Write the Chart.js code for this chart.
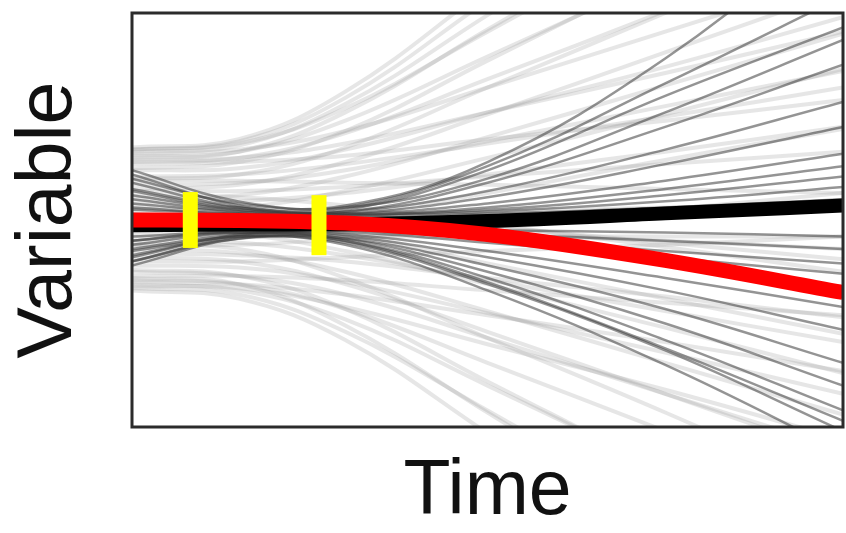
<!DOCTYPE html>
<html>
<head>
<meta charset="utf-8">
<script src="https://cdn.jsdelivr.net/npm/chart.js@4"></script>
<style>
  html, body { margin: 0; padding: 0; background: #fff; }
  #wrap { width: 846px; height: 533px; }
</style>
</head>
<body>
<div id="wrap"><canvas id="c" width="846" height="533"></canvas></div>
<script>
// Time sample positions (shared by all curves)
const timePoints = [0, 15, 30, 50, 75, 100];

// Light ensemble members
const lightCurves = [
  [0.35, 0.39, 0.62, 1.12, 1.75, 2.40],
  [0.34, 0.38, 0.59, 1.06, 1.64, 2.25],
  [0.33, 0.36, 0.56, 0.99, 1.53, 2.09],
  [0.30, 0.33, 0.52, 0.92, 1.42, 1.94],
  [0.34, 0.37, 0.54, 0.91, 1.38, 1.86],
  [0.25, 0.28, 0.43, 0.77, 1.20, 1.64],
  [0.31, 0.33, 0.48, 0.79, 1.18, 1.58],
  [0.20, 0.22, 0.35, 0.64, 1.00, 1.37],
  [0.28, 0.30, 0.42, 0.68, 1.01, 1.35],
  [0.15, 0.17, 0.28, 0.51, 0.81, 1.11],
  [0.32, 0.34, 0.43, 0.64, 0.91, 1.18],
  [0.10, 0.12, 0.21, 0.40, 0.65, 0.90],
  [0.24, 0.25, 0.34, 0.52, 0.74, 0.98],
  [0.05, 0.06, 0.14, 0.30, 0.51, 0.73],
  [0.29, 0.30, 0.37, 0.52, 0.71, 0.91],
  [0.17, 0.18, 0.24, 0.38, 0.55, 0.72],
  [-0.05, -0.04, 0.02, 0.13, 0.29, 0.44],
  [0.21, 0.22, 0.27, 0.37, 0.50, 0.64],
  [0.08, 0.09, 0.13, 0.22, 0.33, 0.45],
  [0.27, 0.28, 0.31, 0.39, 0.48, 0.58],
  [-0.12, -0.12, -0.09, -0.03, 0.05, 0.13],
  [0.14, 0.14, 0.16, 0.21, 0.27, 0.33],
  [-0.20, -0.20, -0.18, -0.15, -0.12, -0.08],
  [0.02, 0.02, 0.03, 0.04, 0.06, 0.08],
  [-0.08, -0.08, -0.08, -0.08, -0.08, -0.08],
  [0.19, 0.19, 0.18, 0.17, 0.15, 0.13],
  [-0.02, -0.02, -0.04, -0.07, -0.10, -0.14],
  [-0.27, -0.27, -0.29, -0.34, -0.40, -0.46],
  [0.06, 0.06, 0.03, -0.03, -0.11, -0.19],
  [-0.16, -0.17, -0.20, -0.28, -0.37, -0.47],
  [0.12, 0.11, 0.07, -0.02, -0.13, -0.25],
  [-0.30, -0.31, -0.36, -0.46, -0.59, -0.73],
  [-0.10, -0.11, -0.17, -0.29, -0.44, -0.59],
  [0.00, -0.01, -0.07, -0.21, -0.38, -0.55],
  [-0.22, -0.23, -0.30, -0.45, -0.64, -0.84],
  [-0.06, -0.07, -0.15, -0.31, -0.52, -0.74],
  [-0.32, -0.33, -0.42, -0.60, -0.82, -1.06],
  [-0.14, -0.16, -0.25, -0.44, -0.69, -0.94],
  [-0.25, -0.27, -0.36, -0.57, -0.84, -1.11],
  [-0.18, -0.20, -0.31, -0.54, -0.84, -1.14],
  [-0.29, -0.31, -0.43, -0.69, -1.02, -1.36],
  [-0.12, -0.14, -0.28, -0.57, -0.93, -1.31],
  [-0.31, -0.34, -0.48, -0.80, -1.21, -1.62],
  [-0.24, -0.27, -0.43, -0.78, -1.22, -1.68],
  [-0.33, -0.36, -0.54, -0.92, -1.41, -1.91],
  [-0.28, -0.31, -0.51, -0.93, -1.46, -2.00],
  [-0.34, -0.38, -0.58, -1.03, -1.60, -2.19]
];

// Dark ensemble members
const darkCurves = [
  [0.20, 0.08, 0.07, 0.28, 0.78, 1.45],
  [0.15, 0.06, 0.06, 0.26, 0.66, 1.08],
  [0.12, 0.05, 0.05, 0.24, 0.60, 0.93],
  [0.24, 0.09, 0.06, 0.20, 0.52, 0.87],
  [0.14, 0.05, 0.04, 0.18, 0.45, 0.75],
  [0.08, 0.04, 0.04, 0.14, 0.34, 0.57],
  [0.06, 0.03, 0.03, 0.11, 0.27, 0.45],
  [0.18, 0.06, 0.03, 0.08, 0.19, 0.32],
  [0.05, 0.03, 0.02, 0.06, 0.15, 0.26],
  [0.22, 0.07, 0.03, 0.05, 0.12, 0.21],
  [0.03, 0.02, 0.02, 0.04, 0.09, 0.16],
  [0.10, 0.04, 0.01, 0.03, 0.06, 0.10],
  [-0.10, -0.05, -0.04, -0.05, -0.06, -0.08],
  [-0.18, -0.07, -0.05, -0.07, -0.10, -0.14],
  [-0.05, -0.04, -0.05, -0.09, -0.15, -0.21],
  [-0.20, -0.08, -0.06, -0.11, -0.18, -0.26],
  [-0.14, -0.07, -0.07, -0.15, -0.28, -0.42],
  [-0.12, -0.06, -0.08, -0.18, -0.34, -0.53],
  [-0.22, -0.09, -0.09, -0.22, -0.43, -0.69],
  [-0.10, -0.06, -0.09, -0.25, -0.50, -0.80],
  [-0.15, -0.08, -0.10, -0.28, -0.58, -0.92],
  [-0.08, -0.06, -0.10, -0.30, -0.62, -0.97],
  [-0.20, -0.09, -0.11, -0.31, -0.63, -1.02],
  [-0.17, -0.08, -0.12, -0.34, -0.70, -1.12]
];

// Highlighted trajectories
const blackLine = [-0.025, -0.022, -0.02, -0.005, 0.032, 0.07];
const redLine   = [0.0, -0.002, -0.015, -0.07, -0.195, -0.35];

// Yellow observation markers
const markerX    = [8.2, 26.3];
const markerLow  = [-0.135, -0.17];
const markerHigh = [0.135, 0.12];

const toPts = vals => vals.map((v, i) => ({ x: timePoints[i], y: v }));

const datasets = [];
markerX.forEach((mx, i) => {
  datasets.push({
    data: [{ x: mx, y: markerLow[i] }, { x: mx, y: markerHigh[i] }],
    borderColor: '#ffff00', borderWidth: 15, borderCapStyle: 'butt',
    pointRadius: 0, tension: 0, order: 0
  });
});
datasets.push({
  data: toPts(redLine), borderColor: '#ff0000', borderWidth: 15,
  borderCapStyle: 'butt', pointRadius: 0, cubicInterpolationMode: 'monotone', order: 1
});
datasets.push({
  data: toPts(blackLine), borderColor: '#000000', borderWidth: 14,
  borderCapStyle: 'butt', pointRadius: 0, cubicInterpolationMode: 'monotone', order: 2
});
darkCurves.forEach(c => datasets.push({
  data: toPts(c), borderColor: 'rgba(60,60,60,0.55)', borderWidth: 2.5,
  pointRadius: 0, tension: 0.4, capBezierPoints: false, order: 3
}));
lightCurves.forEach(c => datasets.push({
  data: toPts(c), borderColor: 'rgba(150,150,150,0.24)', borderWidth: 4,
  pointRadius: 0, tension: 0.4, capBezierPoints: false, order: 4
}));

const framePlugin = {
  id: 'frame',
  afterDraw(chart) {
    const { ctx, chartArea: a } = chart;
    ctx.save();
    ctx.strokeStyle = '#2b2b2b';
    ctx.lineWidth = 3;
    ctx.strokeRect(a.left, a.top, a.right - a.left, a.bottom - a.top);
    ctx.restore();
  }
};

new Chart(document.getElementById('c'), {
  type: 'line',
  data: { datasets },
  options: {
    responsive: false,
    animation: false,
    events: [],
    layout: { padding: { left: 0, right: 3, top: 13, bottom: 0 } },
    plugins: { legend: { display: false }, tooltip: { enabled: false } },
    scales: {
      x: {
        type: 'linear', min: 0, max: 100,
        grid: { display: false, drawTicks: false },
        border: { display: false },
        ticks: { display: false },
        title: {
          display: true, text: 'Time', color: '#111',
          font: { family: 'Liberation Sans', size: 77, lineHeight: 1 },
          padding: { top: 27.5, bottom: 1.5 }
        }
      },
      y: {
        type: 'linear', min: -1, max: 1,
        grid: { display: false, drawTicks: false },
        border: { display: false },
        ticks: { display: false },
        title: {
          display: true, text: 'Variable', color: '#111',
          font: { family: 'Liberation Sans', size: 77, lineHeight: 1 },
          padding: { top: 11.5, bottom: 43.5 }
        }
      }
    }
  },
  plugins: [framePlugin]
});
</script>
</body>
</html>
